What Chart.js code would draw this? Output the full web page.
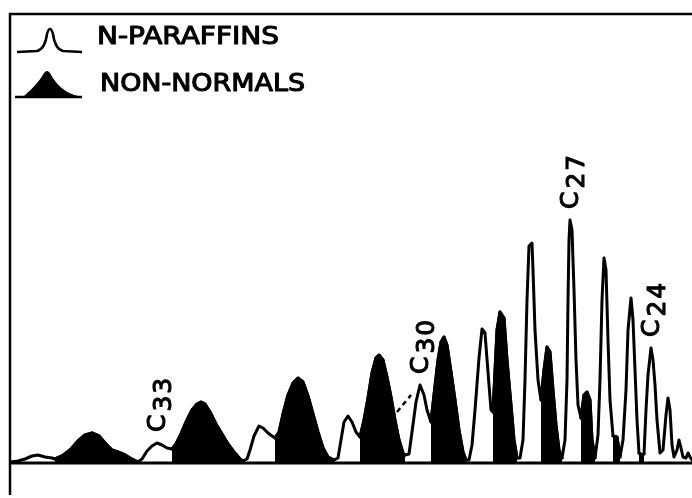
<!DOCTYPE html>
<html>
<head>
<meta charset="utf-8">
<script src="https://cdn.jsdelivr.net/npm/chart.js@4/dist/chart.umd.min.js"></script>
<style>
  html, body { margin: 0; padding: 0; background: #fff; }
  canvas { display: block; }
</style>
</head>
<body>
<canvas id="chrom" width="692" height="498"></canvas>
<script>
// Detector trace: retention (chart units) and response (chart units above baseline)
const retention = [
  1, 8, 15, 22, 28, 35, 42, 45, 52, 60, 68, 75, 82, 89, 96, 102, 108, 115, 122, 128,
  132, 137, 142, 147, 152, 157, 162, 166, 170, 176, 182, 187, 191, 195, 200, 206, 212, 218, 224, 230, 233,
  237, 240, 244, 249, 253, 258, 262, 265, 269, 273, 278, 283, 288, 293, 298, 303, 308, 313, 318, 324,
  328, 331, 334, 338, 342, 346, 350, 354, 358, 362, 366, 369, 373, 377, 381, 385, 389, 393, 395,
  399, 402, 406, 410, 414, 417, 421, 424, 428, 431, 434, 437, 441, 445, 449, 453, 456,
  459, 462, 465, 469, 472, 475, 478, 481, 483, 487, 490, 494, 497, 501, 504, 507,
  510, 513, 515, 517, 519, 522, 523, 525, 528, 531, 534, 537, 540, 543, 546, 549, 552,
  555, 557, 558, 559, 560, 562, 564, 566, 568, 571, 574, 577, 580, 582, 585,
  588, 590, 592, 594, 596, 598, 600, 603, 607, 610,
  613, 616, 618, 621, 623, 625, 627, 629, 632, 634,
  636, 638, 641, 643, 645, 647, 650, 653, 656, 658, 660, 662, 664, 667, 669, 671, 673, 676, 678, 680, 682
];
const response = [
  1, 2, 4, 7, 8, 6, 5, 4, 7, 13, 22, 28, 30, 27, 19, 13, 11, 8, 4, 1,
  4, 12, 17, 20, 18, 15, 14, 19, 27, 41, 53, 59, 61, 59, 51, 39, 29, 19, 11, 4, 2,
  4, 13, 27, 37, 35, 30, 27, 25, 31, 49, 68, 80, 85, 81, 67, 49, 31, 15, 6, 3,
  5, 23, 41, 47, 41, 31, 26, 43, 65, 90, 105, 108, 103, 86, 66, 43, 23, 10, 8,
  9, 31, 61, 78, 68, 53, 41, 68, 103, 121, 126, 118, 91, 63, 33, 11, 3,
  3, 18, 53, 105, 134, 130, 91, 53, 51, 133, 151, 145, 103, 58, 23, 5,
  5, 23, 83, 163, 217, 220, 193, 133, 83, 63, 93, 116, 111, 73, 38, 13, 5,
  23, 83, 163, 223, 243, 233, 173, 103, 58, 45, 68, 71, 63, 23, 5,
  28, 83, 163, 205, 193, 123, 63, 27, 26, 6,
  23, 73, 133, 165, 143, 93, 43, 10, 8, 9,
  53, 88, 115, 103, 78, 43, 10, 13, 48, 65, 53, 18, 6, 13, 23, 15, 6, 5, 10, 6, 3
];

// Retention windows in which the non-normal components elute
const nonNormalWindows = [
  [45, 128], [162, 233], [265, 324], [350, 395], [421, 456],
  [483, 507], [531, 552], [571, 585], [603, 610], [629, 634]
];

const seriesNames = ['N-PARAFFINS', 'NON-NORMALS'];

// Carbon-number tags on selected n-paraffin peaks
const peakLabels = ['C33', 'C30', 'C27', 'C24'];
const peakTimes = [147, 410, 560, 641];

const tracePoints = retention.map((t, i) => ({ x: t, y: response[i] }));
const inWindow = t => nonNormalWindows.some(([a, b]) => t >= a && t <= b);
const nonNormalPoints = retention.map((t, i) => ({ x: t, y: inWindow(t) ? response[i] : null }));

const FONT = '"DejaVu Sans", "Liberation Sans", sans-serif';

// filled text with a thin outline, for a pen-lettered weight
function inkText(ctx, txt, x0, y0) {
  ctx.fillText(txt, x0, y0);
  ctx.strokeText(txt, x0, y0);
}

const decorations = {
  id: 'decorations',
  afterDraw(chart) {
    const { ctx, chartArea: a, scales: { x, y } } = chart;
    ctx.save();
    ctx.strokeStyle = '#000';
    ctx.lineCap = 'butt';

    // frame: top rule, left rule, baseline
    ctx.lineWidth = 2.5;
    ctx.beginPath();
    ctx.moveTo(a.left - 1, a.top);
    ctx.lineTo(a.right, a.top);
    ctx.moveTo(a.left, a.top - 1);
    ctx.lineTo(a.left, chart.height - 3);
    ctx.stroke();
    ctx.lineWidth = 3;
    const y0 = y.getPixelForValue(0);
    ctx.beginPath();
    ctx.moveTo(a.left, y0);
    ctx.lineTo(a.right, y0);
    ctx.stroke();

    // legend glyphs
    ctx.lineWidth = 2.5;
    ctx.lineJoin = 'round';
    ctx.beginPath();
    ctx.moveTo(17, 52);
    ctx.lineTo(37, 51);
    ctx.quadraticCurveTo(45, 49, 47, 34);
    ctx.quadraticCurveTo(50, 24, 53, 34);
    ctx.quadraticCurveTo(55, 49, 63, 51);
    ctx.lineTo(82, 52);
    ctx.stroke();

    ctx.fillStyle = '#000';
    ctx.beginPath();
    ctx.moveTo(15, 97);
    ctx.lineTo(24, 96);
    ctx.quadraticCurveTo(38, 84, 44, 73);
    ctx.quadraticCurveTo(47, 69, 50, 73);
    ctx.quadraticCurveTo(60, 92, 78, 96);
    ctx.lineTo(82, 97);
    ctx.closePath();
    ctx.fill();
    ctx.beginPath();
    ctx.moveTo(15, 97);
    ctx.lineTo(82, 97);
    ctx.stroke();

    // legend labels
    ctx.fillStyle = '#000';
    ctx.lineWidth = 1.1;
    ctx.font = '24px ' + FONT;
    ctx.textBaseline = 'alphabetic';
    ctx.textAlign = 'left';
    const fitText = (txt, x0, base, w) => {
      const m = ctx.measureText(txt).width;
      ctx.save();
      ctx.translate(x0, base);
      ctx.scale(w / m, 1);
      inkText(ctx, txt, 0, 0);
      ctx.restore();
    };
    fitText(chart.data.datasets[1].label, 97, 44, 182);
    fitText(chart.data.datasets[0].label, 100, 91, 205);

    // carbon-number tags, written upward above their peaks
    ctx.font = '25px ' + FONT;
    ctx.textBaseline = 'middle';
    peakLabels.forEach((lab, i) => {
      const t = peakTimes[i];
      const idx = retention.indexOf(t);
      const px = x.getPixelForValue(t) + 3;
      const py = y.getPixelForValue(response[idx]) - 11;
      ctx.save();
      ctx.translate(px, py);
      ctx.rotate(-Math.PI / 2);
      const head = lab.charAt(0);
      const sub = lab.slice(1);
      ctx.letterSpacing = '2px';
      inkText(ctx, head, 0, -2);
      const w = ctx.measureText(head).width;
      inkText(ctx, sub, w + 1, 4);
      ctx.restore();
    });

    // short dashed leader beside the C30 tag
    ctx.setLineDash([5, 4]);
    ctx.lineWidth = 2.5;
    ctx.beginPath();
    ctx.moveTo(x.getPixelForValue(387), y.getPixelForValue(51));
    ctx.lineTo(x.getPixelForValue(401), y.getPixelForValue(68));
    ctx.stroke();
    ctx.restore();
  }
};

new Chart(document.getElementById('chrom'), {
  type: 'line',
  data: {
    datasets: [
      {
        label: seriesNames[1],
        data: nonNormalPoints,
        borderColor: '#000',
        backgroundColor: '#000',
        borderWidth: 3,
        fill: 'origin',
        spanGaps: false,
        tension: 0,
        pointRadius: 0
      },
      {
        label: seriesNames[0],
        data: tracePoints,
        borderColor: '#000',
        backgroundColor: '#fff',
        borderWidth: 3,
        fill: 'origin',
        tension: 0,
        pointRadius: 0
      }
    ]
  },
  options: {
    responsive: false,
    devicePixelRatio: 1,
    animation: false,
    layout: { padding: { left: 10, top: 14, right: 0, bottom: 35 } },
    elements: { line: { borderJoinStyle: 'round', borderCapStyle: 'round' } },
    scales: {
      x: { type: 'linear', min: 0, max: 682, display: false },
      y: { type: 'linear', min: 0, max: 449, display: false }
    },
    plugins: {
      legend: { display: false },
      tooltip: { enabled: false }
    }
  },
  plugins: [decorations]
});
</script>
</body>
</html>
